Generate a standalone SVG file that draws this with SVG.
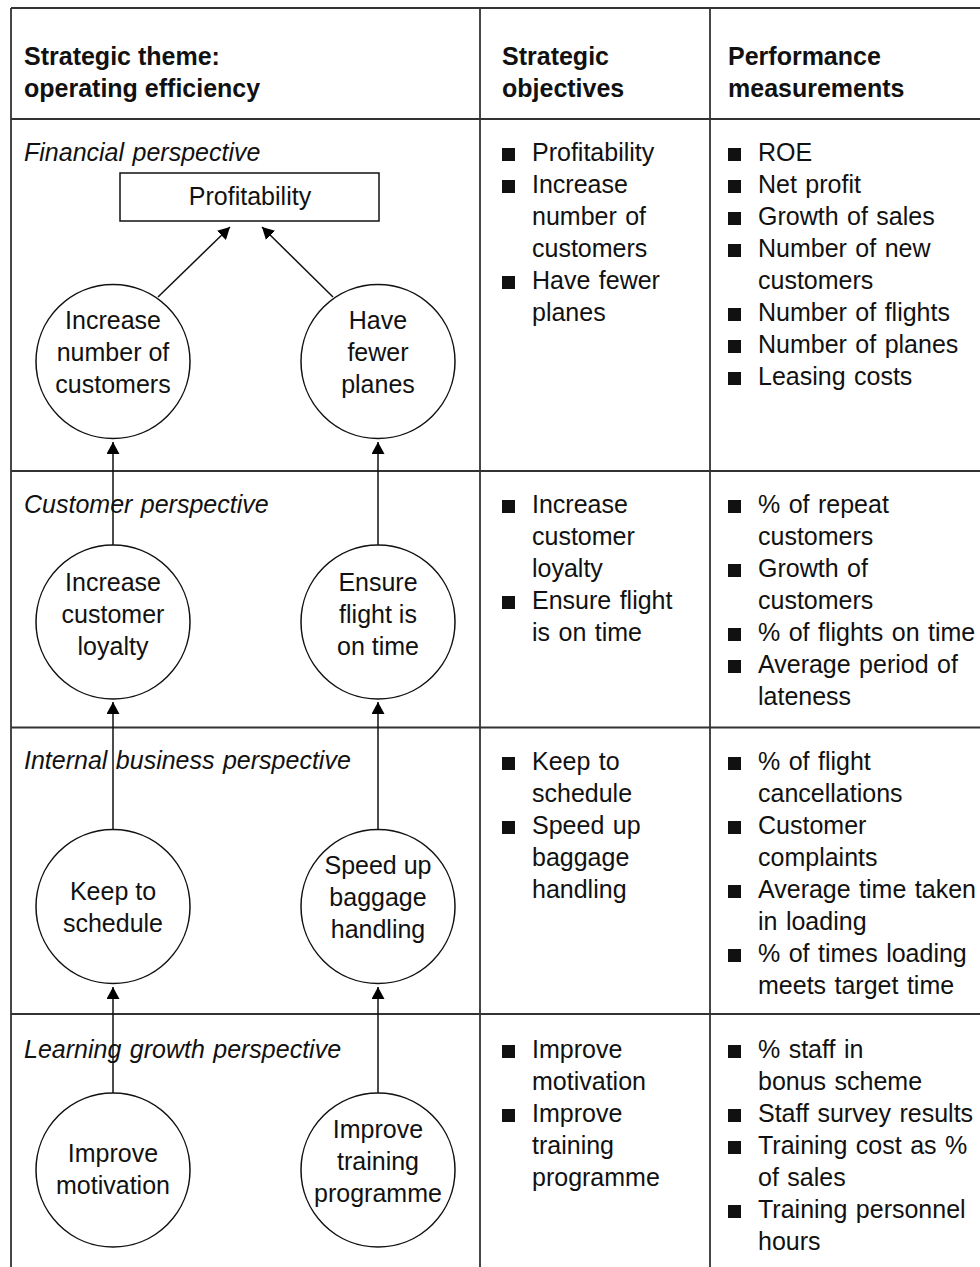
<svg xmlns="http://www.w3.org/2000/svg" width="980" height="1267" viewBox="0 0 980 1267">
  <defs>
    <marker id="arrow" markerUnits="userSpaceOnUse" markerWidth="13" markerHeight="13" refX="12" refY="6.5" orient="auto">
      <path d="M0,0 L12,6.5 L0,13 Z" fill="#000"/>
    </marker>
    <style>
      text { font-family: "Liberation Sans", Arial, sans-serif; font-size: 25px; fill: #111; word-spacing: 1.5px; }
      .hd { font-weight: bold; word-spacing: 0; }
      .it { font-style: italic; }
      .mid { text-anchor: middle; word-spacing: 0; }
      .grid { stroke: #333; stroke-width: 1.8; fill: none; }
      .node { stroke: #111; stroke-width: 1.5; fill: #fff; }
      .conn { stroke: #111; stroke-width: 1.5; fill: none; marker-end: url(#arrow); }
      .bul { fill: #111; }
    </style>
  </defs>

  <rect width="980" height="1267" fill="#fff"/>

  <!-- table grid -->
  <g id="grid" class="grid">
    <line x1="11" y1="8" x2="980" y2="8"/>
    <line x1="11" y1="119" x2="980" y2="119"/>
    <line x1="11" y1="471" x2="980" y2="471"/>
    <line x1="11" y1="727.5" x2="980" y2="727.5"/>
    <line x1="11" y1="1014" x2="980" y2="1014"/>
    <line x1="11" y1="8" x2="11" y2="1267"/>
    <line x1="480" y1="8" x2="480" y2="1267"/>
    <line x1="710" y1="8" x2="710" y2="1267"/>
  </g>

  <!-- column headings -->
  <g id="headings">
    <text class="hd" x="24" y="65">Strategic theme:</text>
    <text class="hd" x="24" y="97">operating efficiency</text>
    <text class="hd" x="502" y="65">Strategic</text>
    <text class="hd" x="502" y="97">objectives</text>
    <text class="hd" x="728" y="65">Performance</text>
    <text class="hd" x="728" y="97">measurements</text>
  </g>

  <!-- perspective labels -->
  <g id="perspectives">
    <text class="it" x="24" y="161">Financial perspective</text>
    <text class="it" x="24" y="513">Customer perspective</text>
    <text class="it" x="24" y="769">Internal business perspective</text>
    <text class="it" x="24" y="1058">Learning growth perspective</text>
  </g>

  <!-- connectors -->
  <g id="connectors">
    <line class="conn" x1="158" y1="297" x2="230" y2="227"/>
    <line class="conn" x1="333" y1="297" x2="262" y2="227"/>
    <line class="conn" x1="113" y1="546" x2="113" y2="442"/>
    <line class="conn" x1="378" y1="546" x2="378" y2="442"/>
    <line class="conn" x1="113" y1="830" x2="113" y2="702"/>
    <line class="conn" x1="378" y1="830" x2="378" y2="702"/>
    <line class="conn" x1="113" y1="1093" x2="113" y2="987"/>
    <line class="conn" x1="378" y1="1093" x2="378" y2="987"/>
  </g>

  <!-- strategy map nodes -->
  <g id="node-profitability">
    <rect class="node" x="120" y="173" width="259" height="48"/>
    <text class="mid" x="250" y="205">Profitability</text>
  </g>
  <g id="node-increase-customers">
    <circle class="node" cx="113" cy="361.5" r="77"/>
    <text class="mid" x="113" y="329">Increase</text>
    <text class="mid" x="113" y="361">number of</text>
    <text class="mid" x="113" y="393">customers</text>
  </g>
  <g id="node-fewer-planes">
    <circle class="node" cx="378" cy="361.5" r="77"/>
    <text class="mid" x="378" y="329">Have</text>
    <text class="mid" x="378" y="361">fewer</text>
    <text class="mid" x="378" y="393">planes</text>
  </g>
  <g id="node-loyalty">
    <circle class="node" cx="113" cy="622" r="77"/>
    <text class="mid" x="113" y="591">Increase</text>
    <text class="mid" x="113" y="623">customer</text>
    <text class="mid" x="113" y="655">loyalty</text>
  </g>
  <g id="node-on-time">
    <circle class="node" cx="378" cy="622" r="77"/>
    <text class="mid" x="378" y="591">Ensure</text>
    <text class="mid" x="378" y="623">flight is</text>
    <text class="mid" x="378" y="655">on time</text>
  </g>
  <g id="node-schedule">
    <circle class="node" cx="113" cy="906.5" r="77"/>
    <text class="mid" x="113" y="900">Keep to</text>
    <text class="mid" x="113" y="932">schedule</text>
  </g>
  <g id="node-baggage">
    <circle class="node" cx="378" cy="906.5" r="77"/>
    <text class="mid" x="378" y="874">Speed up</text>
    <text class="mid" x="378" y="906">baggage</text>
    <text class="mid" x="378" y="938">handling</text>
  </g>
  <g id="node-motivation">
    <circle class="node" cx="113" cy="1170" r="77"/>
    <text class="mid" x="113" y="1162">Improve</text>
    <text class="mid" x="113" y="1194">motivation</text>
  </g>
  <g id="node-training">
    <circle class="node" cx="378" cy="1170" r="77"/>
    <text class="mid" x="378" y="1138">Improve</text>
    <text class="mid" x="378" y="1170">training</text>
    <text class="mid" x="378" y="1202">programme</text>
  </g>

  <!-- strategic objectives column -->
  <g id="objectives">
    <rect class="bul" x="502" y="148" width="13" height="13"/>
    <text x="532" y="161">Profitability</text>
    <rect class="bul" x="502" y="180" width="13" height="13"/>
    <text x="532" y="193">Increase</text>
    <text x="532" y="225">number of</text>
    <text x="532" y="257">customers</text>
    <rect class="bul" x="502" y="276" width="13" height="13"/>
    <text x="532" y="289">Have fewer</text>
    <text x="532" y="321">planes</text>

    <rect class="bul" x="502" y="500" width="13" height="13"/>
    <text x="532" y="513">Increase</text>
    <text x="532" y="545">customer</text>
    <text x="532" y="577">loyalty</text>
    <rect class="bul" x="502" y="596" width="13" height="13"/>
    <text x="532" y="609">Ensure flight</text>
    <text x="532" y="641">is on time</text>

    <rect class="bul" x="502" y="757" width="13" height="13"/>
    <text x="532" y="770">Keep to</text>
    <text x="532" y="802">schedule</text>
    <rect class="bul" x="502" y="821" width="13" height="13"/>
    <text x="532" y="834">Speed up</text>
    <text x="532" y="866">baggage</text>
    <text x="532" y="898">handling</text>

    <rect class="bul" x="502" y="1045" width="13" height="13"/>
    <text x="532" y="1058">Improve</text>
    <text x="532" y="1090">motivation</text>
    <rect class="bul" x="502" y="1109" width="13" height="13"/>
    <text x="532" y="1122">Improve</text>
    <text x="532" y="1154">training</text>
    <text x="532" y="1186">programme</text>
  </g>

  <!-- performance measurements column -->
  <g id="measurements">
    <rect class="bul" x="728" y="148" width="13" height="13"/>
    <text x="758" y="161">ROE</text>
    <rect class="bul" x="728" y="180" width="13" height="13"/>
    <text x="758" y="193">Net profit</text>
    <rect class="bul" x="728" y="212" width="13" height="13"/>
    <text x="758" y="225">Growth of sales</text>
    <rect class="bul" x="728" y="244" width="13" height="13"/>
    <text x="758" y="257">Number of new</text>
    <text x="758" y="289">customers</text>
    <rect class="bul" x="728" y="308" width="13" height="13"/>
    <text x="758" y="321">Number of flights</text>
    <rect class="bul" x="728" y="340" width="13" height="13"/>
    <text x="758" y="353">Number of planes</text>
    <rect class="bul" x="728" y="372" width="13" height="13"/>
    <text x="758" y="385">Leasing costs</text>

    <rect class="bul" x="728" y="500" width="13" height="13"/>
    <text x="758" y="513">% of repeat</text>
    <text x="758" y="545">customers</text>
    <rect class="bul" x="728" y="564" width="13" height="13"/>
    <text x="758" y="577">Growth of</text>
    <text x="758" y="609">customers</text>
    <rect class="bul" x="728" y="628" width="13" height="13"/>
    <text x="758" y="641">% of flights on time</text>
    <rect class="bul" x="728" y="660" width="13" height="13"/>
    <text x="758" y="673">Average period of</text>
    <text x="758" y="705">lateness</text>

    <rect class="bul" x="728" y="757" width="13" height="13"/>
    <text x="758" y="770">% of flight</text>
    <text x="758" y="802">cancellations</text>
    <rect class="bul" x="728" y="821" width="13" height="13"/>
    <text x="758" y="834">Customer</text>
    <text x="758" y="866">complaints</text>
    <rect class="bul" x="728" y="885" width="13" height="13"/>
    <text x="758" y="898">Average time taken</text>
    <text x="758" y="930">in loading</text>
    <rect class="bul" x="728" y="949" width="13" height="13"/>
    <text x="758" y="962">% of times loading</text>
    <text x="758" y="994">meets target time</text>

    <rect class="bul" x="728" y="1045" width="13" height="13"/>
    <text x="758" y="1058">% staff in</text>
    <text x="758" y="1090">bonus scheme</text>
    <rect class="bul" x="728" y="1109" width="13" height="13"/>
    <text x="758" y="1122">Staff survey results</text>
    <rect class="bul" x="728" y="1141" width="13" height="13"/>
    <text x="758" y="1154">Training cost as %</text>
    <text x="758" y="1186">of sales</text>
    <rect class="bul" x="728" y="1205" width="13" height="13"/>
    <text x="758" y="1218">Training personnel</text>
    <text x="758" y="1250">hours</text>
  </g>
</svg>
